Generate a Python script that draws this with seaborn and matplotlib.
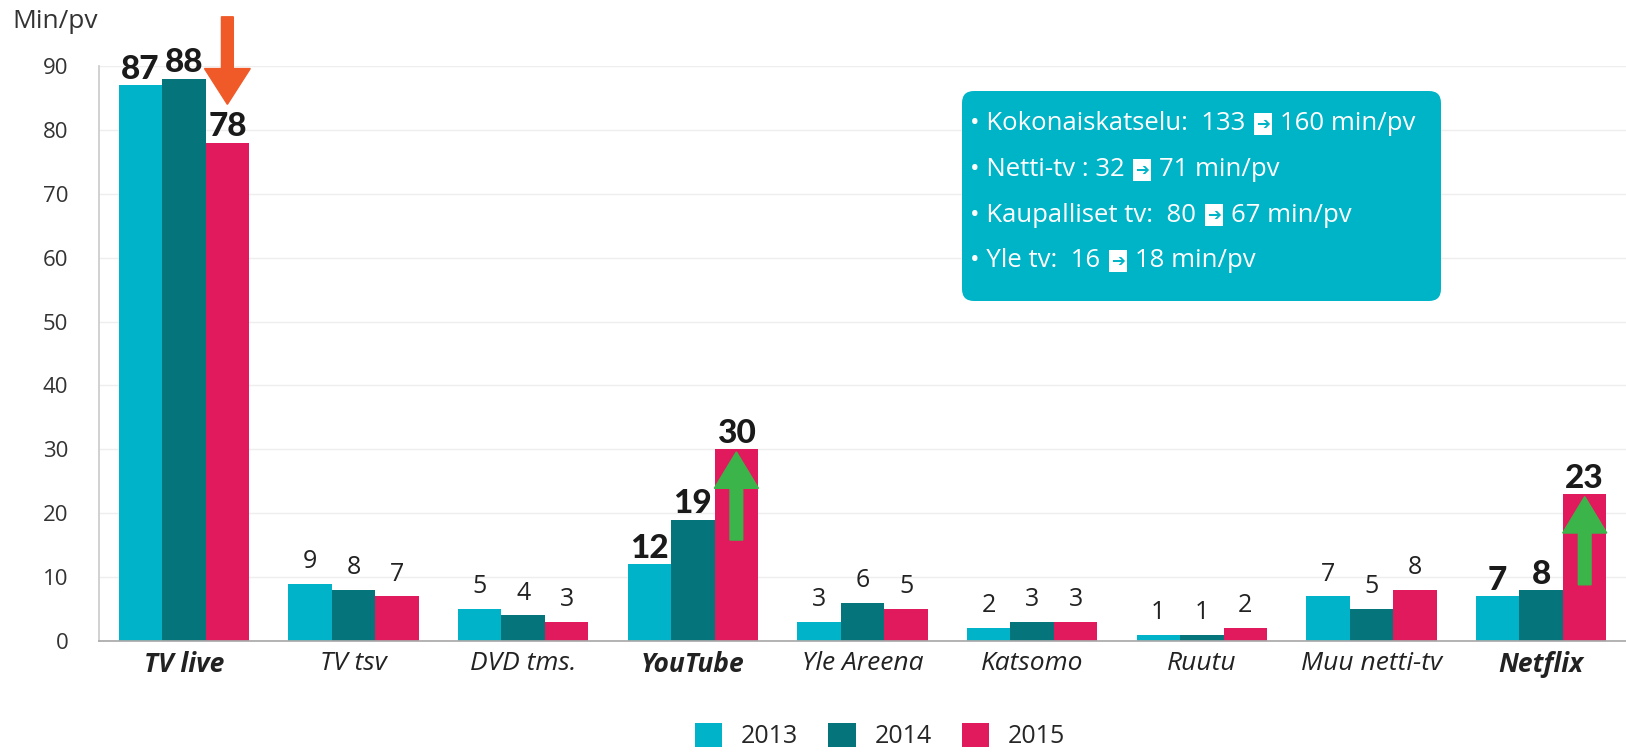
import matplotlib
matplotlib.use("Agg")
import matplotlib.pyplot as plt
from matplotlib.patches import FancyBboxPatch, Patch
from matplotlib.transforms import IdentityTransform
import pandas as pd
import seaborn as sns

################################################################################
# data
################################################################################

categories = ["TV live", "TV tsv", "DVD tms.", "YouTube", "Yle Areena",
              "Katsomo", "Ruutu", "Muu netti-tv", "Netflix"]
years = ["2013", "2014", "2015"]
v2013 = [87, 9, 5, 12, 3, 2, 1, 7, 7]
v2014 = [88, 8, 4, 19, 6, 3, 1, 5, 8]
v2015 = [78, 7, 3, 30, 5, 3, 2, 8, 23]
highlight = ["TV live", "YouTube", "Netflix"]
info_lines = [("Kokonaiskatselu:  133", "160 min/pv"),
              ("Netti-tv : 32", "71 min/pv"),
              ("Kaupalliset tv:  80", "67 min/pv"),
              ("Yle tv:  16", "18 min/pv")]

colors = ["#00B3C8", "#05757B", "#E01A5C"]
box_color = "#00B4C8"
W, H = 1626, 752

df = pd.DataFrame({
    "kategoria": categories * 3,
    "vuosi": [y for y in years for _ in categories],
    "min": v2013 + v2014 + v2015,
})

################################################################################
# plot
################################################################################

sns.set_theme(style="white")
plt.rcParams['font.family'] = ['Open Sans', 'DejaVu Sans']

fig = plt.figure(figsize=(W / 100, H / 100), dpi=100)
ax = fig.add_axes([99 / W, 1 - 641 / H, 1 - 99 / W, (641 - 66) / H])

sns.barplot(data=df, x="kategoria", y="min", hue="vuosi", palette=colors,
            width=0.77, saturation=1, linewidth=0, edgecolor="none",
            ax=ax, legend=False)

ax.set_xlim(-0.5, 8.5)
ax.set_ylim(0, 90)
ax.set_yticks(range(0, 91, 10))
ax.yaxis.grid(True, color="#eeeeee", lw=1)
ax.set_axisbelow(True)
ax.set_xlabel("")
ax.set_ylabel("")
for s in ["top", "right"]:
    ax.spines[s].set_visible(False)
ax.spines["left"].set_color("#cccccc")
ax.spines["bottom"].set_color("#aaaaaa")
ax.tick_params(axis="y", length=0, pad=22, labelsize=16, labelcolor="#333333")
ax.tick_params(axis="x", which="major", length=0, pad=7)
ax.set_xticks([i + 0.5 for i in range(8)], minor=True)
ax.tick_params(axis="x", which="minor", length=3, color="#aaaaaa", direction="out")

ax.set_xticks(range(len(categories)))
ax.set_xticklabels(categories)
for lbl in ax.get_xticklabels():
    lbl.set_fontsize(19)
    lbl.set_fontstyle("italic")
    lbl.set_color("#222222")
    if lbl.get_text() in highlight:
        lbl.set_fontweight("bold")

# value labels
for cont in ax.containers:
    vals = [int(round(b.get_height())) for b in cont]
    normal = ["" if c in highlight else str(v) for c, v in zip(categories, vals)]
    bold = [str(v) if c in highlight else "" for c, v in zip(categories, vals)]
    ax.bar_label(cont, labels=normal, padding=7, fontsize=18, color="#222222")
    ax.bar_label(cont, labels=bold, padding=1, fontsize=24, color="#1a1a1a",
                 family=["Lato", "DejaVu Sans"], fontweight="black")

# arrows on the 2015 bars
bars15 = ax.containers[2]
x_tv = bars15[0].get_x() + bars15[0].get_width() / 2
tip = v2015[0] + 6
ax.arrow(x_tv, tip + 13.7, 0, -13.7, width=0.07, head_width=0.27, head_length=5.6,
         length_includes_head=True, color="#F05A28", clip_on=False, zorder=5)
for i in [3, 8]:
    b = bars15[i]
    xc = b.get_x() + b.get_width() / 2
    tip = v2015[i] - 0.4
    ax.arrow(xc, tip - 13.8, 0, 13.8, width=0.075, head_width=0.26, head_length=5.7,
             length_includes_head=True, color="#3BB54A", clip_on=False, zorder=5)

# unit label
fig.text(12 / W, 1 - 22 / H, "Min/pv", fontsize=19, color="#333333", va="center")

# info box
box = FancyBboxPatch((962, H - 301), 479, 210, boxstyle="round,pad=0,rounding_size=12",
                     transform=IdentityTransform(), facecolor=box_color, edgecolor="none")
fig.add_artist(box)
renderer = fig.canvas.get_renderer()
for i, (a, b) in enumerate(info_lines):
    y = 1 - (124 + 45.5 * i) / H
    t1 = fig.text(970 / W, y, "\u2022 " + a + " ", color="white", fontsize=18.5, va="center")
    bb = t1.get_window_extent(renderer)
    t2 = fig.text((bb.x1 + 4) / W, y, "\u2794", fontsize=12, color=box_color, va="center",
                  family="DejaVu Sans", fontweight="bold",
                  bbox=dict(boxstyle="square,pad=0.12", fc="white", ec="none"))
    bb2 = t2.get_window_extent(renderer)
    fig.text((bb2.x1 + 10) / W, y, b, color="white", fontsize=18.5, va="center")

# legend
handles = [Patch(facecolor=c, edgecolor="none", label=y) for c, y in zip(colors, years)]
fig.legend(handles=handles, loc="center", bbox_to_anchor=(880 / W, 1 - 736 / H), ncol=3,
           frameon=False, fontsize=18, handlelength=1.1, handleheight=1.1,
           columnspacing=1.2, handletextpad=0.75, borderaxespad=0)

fig.savefig("out.png", dpi=100)
